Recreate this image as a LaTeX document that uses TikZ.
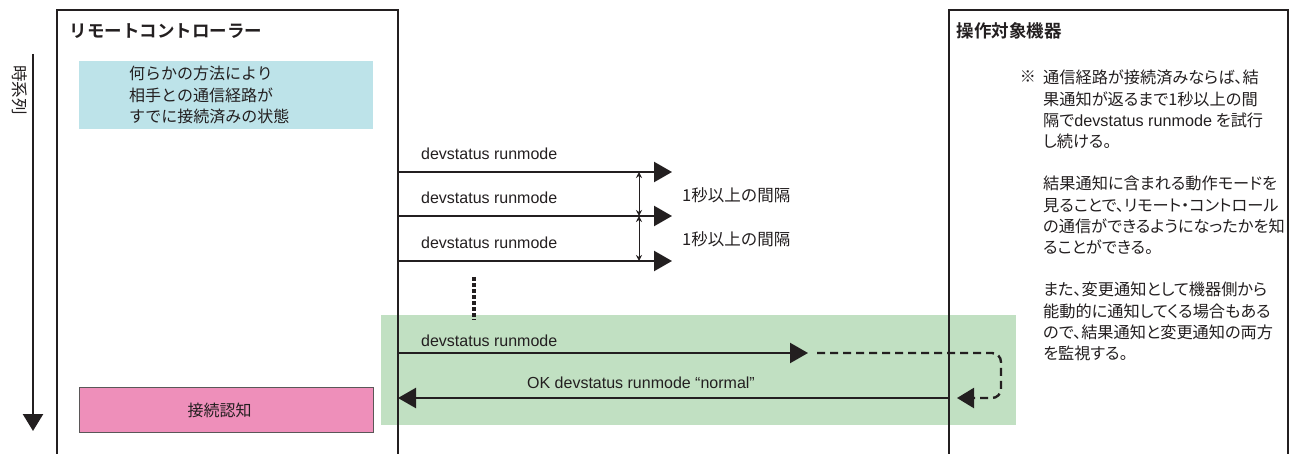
\documentclass[tikz,border=0pt]{standalone}
\usepackage{fontspec}
\setmainfont{Liberation Sans}
\newfontfamily\jp{Noto Sans CJK JP}
\newfontfamily\jpp{Noto Sans CJK JP}[RawFeature={+palt}]
\newfontfamily\jpb{Noto Sans CJK JP Bold}
\usetikzlibrary{arrows.meta,positioning}
\definecolor{ink}{HTML}{231F20}
\definecolor{pale}{HTML}{BDE3E9}
\definecolor{rose}{HTML}{EE8FBA}
\definecolor{mint}{HTML}{C1E0C2}

\begin{document}
\begin{tikzpicture}[x=1pt,y=-1pt,font=\fontsize{16}{19}\selectfont,
    lifebox/.style={draw=ink,line width=2pt,anchor=north west,inner sep=0pt},
    boxtitle/.style={anchor=west,font=\jpb\fontsize{17.5}{19}\selectfont,text=ink},
    msg/.style={draw=ink,line width=2.4pt,-{Triangle[length=18pt,width=20pt]}},
    msglabel/.style={anchor=base west,text=ink,inner sep=0pt},
    gap/.style={draw=ink,line width=1pt,{Stealth[length=6pt,width=6pt]}-{Stealth[length=6pt,width=6pt]}},
    jplabel/.style={font=\jp\fontsize{16.5}{19}\selectfont,text=ink,inner sep=0pt},
    note/.style={font=\jpp\fontsize{16.2}{21.2}\selectfont,text=ink,align=left,inner sep=0pt}]
  \useasboundingbox (0,0) rectangle (1295,454);

  % retry area (behind everything)
  \node[fill=mint,anchor=north west,minimum width=635pt,minimum height=110pt,inner sep=0pt] (retry) at (381,315) {};

  % lifelines
  \node[lifebox,minimum width=341pt,minimum height=470pt] (rc) at (56,9) {};
  \node[lifebox,minimum width=339pt,minimum height=470pt] (dev) at (948,9) {};
  \node[boxtitle] (rctitle) at (66,31) {リモートコントローラー};
  \node[boxtitle] (devtitle) at (953,31) {操作対象機器};

  % time axis
  \coordinate (t1) at (33,54);
  \coordinate (t2) at (33,431);
  \draw[ink,line width=2.5pt,-{Triangle[length=17pt,width=20pt]}] (t1) -- (t2);
  \node[rotate=-90,font=\jp\fontsize{16.5}{18}\selectfont,text=ink] (tlabel) at (20,90) {時系列};

  % states
  \node[fill=pale,anchor=north west,minimum width=294pt,minimum height=68pt,
        text width=194pt,inner xsep=50pt,inner ysep=0pt,align=left,
        font=\jp\fontsize{16}{21.5}\selectfont,text=ink] (prior) at (79,61)
        {何らかの方法により\\相手との通信経路が\\すでに接続済みの状態};
  \node[fill=rose,draw=ink!75,line width=1pt,anchor=north west,minimum width=294pt,
        minimum height=45pt,font=\jp\fontsize{16}{19}\selectfont,text=ink] (ack) at (79,387)
        {\hspace*{-14pt}接続認知};

  % repeated requests
  \foreach \y [count=\i] in {172,216,261} {
    \coordinate (s\i) at (397,\y);
    \coordinate (e\i) at (672,\y);
    \coordinate (g\i) at (639,\y);
    \draw[msg] (s\i) -- (e\i);
    \node[msglabel] (l\i) at (421,\y-12) {devstatus runmode};
  }
  \draw[gap] (g1) -- (g2);
  \draw[gap] (g2) -- (g3);
  \node[jplabel,anchor=west] (i1) at (682,195) {1秒以上の間隔};
  \node[jplabel,anchor=west] (i2) at (682,239) {1秒以上の間隔};

  % and so on
  \coordinate (d1) at (474,277);
  \coordinate (d2) at (474,320);
  \draw[ink,line width=3.5pt,dash pattern=on 3.5pt off 2.5pt] (d1) -- (d2);

  % last request and reply
  \coordinate (s4) at (397,353);
  \coordinate (e4) at (808,353);
  \draw[msg] (s4) -- (e4);
  \node[msglabel] (l4) at (421,346) {devstatus runmode};
  \coordinate (k1) at (817,353);
  \coordinate (k2) at (1001,353);
  \coordinate (k3) at (1001,398);
  \coordinate (k4) at (957,398);
  \draw[ink,line width=2.4pt,dash pattern=on 8pt off 5pt,rounded corners=9pt,
        -{Triangle[length=17pt,width=20pt]}] (k1) -- (k2) -- (k3) -- (k4);
  \coordinate (r1) at (948,398);
  \coordinate (r2) at (398,398);
  \draw[msg] (r1) -- (r2);
  \node[msglabel,anchor=base] (l5) at (641,388) {OK devstatus runmode “normal”};

  % remarks
  \node[note,anchor=north west] (notes) at (1043,70)
    {通信経路が接続済みならば、結\\果通知が返るまで1秒以上の間\\隔で{\rmfamily devstatus runmode} を試行\\し続ける。\\[21.2pt]
     結果通知に含まれる動作モードを\\見ることで、リモート・コントロール\\の通信ができるようになったかを知\\ることができる。\\[21.2pt]
     また、変更通知として機器側から\\能動的に通知してくる場合もある\\ので、結果通知と変更通知の両方\\を監視する。};
  \node[note,font=\jp\fontsize{16}{21.2}\selectfont,anchor=north east,xshift=-7pt] (mark) at (notes.north west) {※};
\end{tikzpicture}
\end{document}
